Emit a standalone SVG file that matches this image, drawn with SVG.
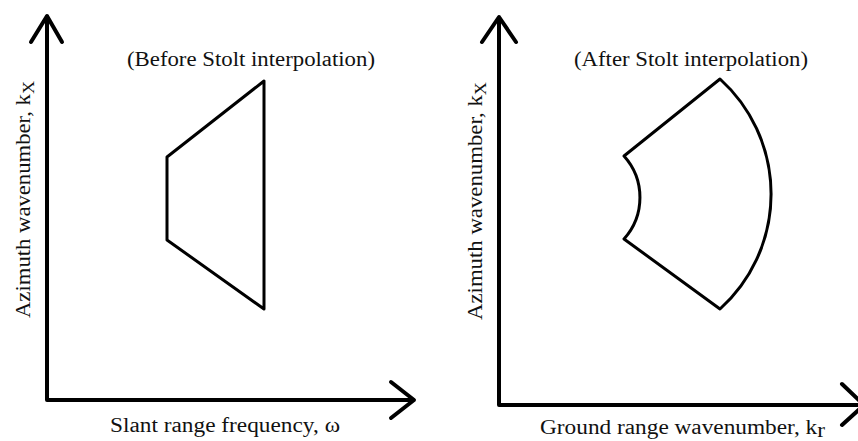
<svg xmlns="http://www.w3.org/2000/svg" width="858" height="441" viewBox="0 0 858 441">
<style>
.ax{fill:none;stroke:#000;stroke-width:4;stroke-linecap:round;stroke-linejoin:round}
.sh{fill:none;stroke:#000;stroke-width:3;stroke-linejoin:round}
text{font-family:"Liberation Serif","Times New Roman",serif;font-size:20px;fill:#111}
</style>
<rect width="858" height="441" fill="#fff"/>
<g id="connectors">
<path class="ax" d="M47,17 V400 H413"/>
<path class="ax" d="M31,42 L47,16 L62,42"/>
<path class="ax" d="M391,382 L414,400 L391,418"/>
<path class="ax" d="M499,19 V405 H860"/>
<path class="ax" d="M482,42 L499,17 L516,42"/>
<path class="ax" d="M842,384 L864,405 L842,425"/>
</g>
<g id="before-region">
<path class="sh" d="M167,157 L264,81 L264,309 L167,240 Z"/>
</g>
<g id="after-region">
<path class="sh" d="M624,156 L720,79 A155,155 0 0 1 720,309 L624,239 A62,62 0 0 0 624,156 Z"/>
</g>
<g id="labels">
<text x="127" y="66" textLength="248" lengthAdjust="spacingAndGlyphs">(Before Stolt interpolation)</text>
<text x="574" y="66" textLength="234" lengthAdjust="spacingAndGlyphs">(After Stolt interpolation)</text>
<text x="110" y="432" textLength="230" lengthAdjust="spacingAndGlyphs">Slant range frequency, ω</text>
<text x="540" y="434" textLength="285" lengthAdjust="spacingAndGlyphs">Ground range wavenumber, k<tspan dy="3">r</tspan></text>
<text transform="translate(30,318) rotate(-90)" textLength="237" lengthAdjust="spacingAndGlyphs">Azimuth wavenumber, k<tspan dy="4" font-size="16">X</tspan></text>
<text transform="translate(482,320) rotate(-90)" textLength="238" lengthAdjust="spacingAndGlyphs">Azimuth wavenumber, k<tspan dy="4" font-size="16">X</tspan></text>
</g>
</svg>
